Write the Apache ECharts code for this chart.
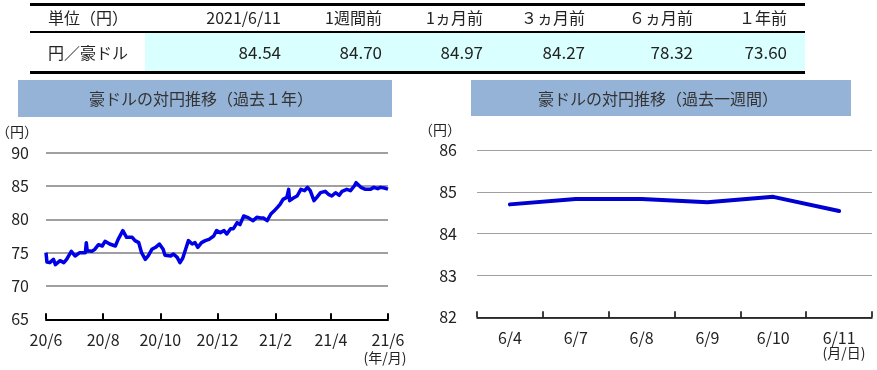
<!DOCTYPE html>
<html>
<head>
<meta charset="utf-8">
<script src="https://cdn.jsdelivr.net/npm/echarts@6/dist/echarts.min.js"></script>
<style>
html,body{margin:0;padding:0;background:#fff;}
#chart{width:877px;height:370px;}
</style>
</head>
<body>
<div id="chart"></div>
<script>
// ---- Table data ----
const tableHeaders = ['単位（円）', '2021/6/11', '1週間前', '1ヵ月前', '３ヵ月前', '６ヵ月前', '１年前'];
const tableRowLabel = '円／豪ドル';
const tableValues = [84.54, 84.70, 84.97, 84.27, 78.32, 73.60];

// ---- Past 1 year ----
const yearTitle = '豪ドルの対円推移（過去１年）';
const yearDates = [
  '2020-06-11','2020-06-12','2020-06-15','2020-06-19','2020-06-21','2020-06-26','2020-06-30',
  '2020-07-03','2020-07-08','2020-07-12','2020-07-17','2020-07-23','2020-07-24','2020-07-25','2020-07-30',
  '2020-08-02','2020-08-06','2020-08-10','2020-08-13','2020-08-18','2020-08-24','2020-08-27',
  '2020-09-01','2020-09-05','2020-09-11','2020-09-14','2020-09-18','2020-09-21','2020-09-25','2020-09-28',
  '2020-10-02','2020-10-06','2020-10-10','2020-10-14','2020-10-16','2020-10-22','2020-10-25','2020-10-29',
  '2020-11-01','2020-11-04','2020-11-07','2020-11-10','2020-11-14','2020-11-17','2020-11-20','2020-11-24','2020-11-28',
  '2020-12-02','2020-12-07','2020-12-10','2020-12-14','2020-12-18','2020-12-21','2020-12-25','2020-12-28',
  '2021-01-01','2021-01-04','2021-01-08','2021-01-12','2021-01-14','2021-01-18','2021-01-22','2021-01-26','2021-01-29',
  '2021-02-02','2021-02-06','2021-02-09','2021-02-13','2021-02-16','2021-02-19','2021-02-23','2021-02-25','2021-02-26',
  '2021-03-02','2021-03-06','2021-03-10','2021-03-14','2021-03-17','2021-03-20','2021-03-24','2021-03-27','2021-03-31',
  '2021-04-05','2021-04-09','2021-04-12','2021-04-16','2021-04-20','2021-04-23','2021-04-28',
  '2021-05-02','2021-05-06','2021-05-08','2021-05-13','2021-05-18','2021-05-20','2021-05-23','2021-05-27','2021-05-31',
  '2021-06-03','2021-06-07','2021-06-11'
];
const yearValues = [
  75.0,73.6,73.5,74.0,73.2,73.8,73.5,
  74.0,75.2,74.5,75.0,75.0,76.5,75.3,75.2,
  75.5,76.2,76.0,76.7,76.3,76.0,77.0,
  78.3,77.3,77.3,76.8,76.5,75.0,74.0,74.5,
  75.5,75.8,76.3,75.5,74.6,74.5,74.8,74.3,
  73.5,74.2,75.5,76.8,76.3,76.5,75.8,76.5,76.8,
  77.0,77.5,78.3,78.0,78.3,77.8,78.6,78.6,
  79.5,79.2,80.5,80.3,80.5,79.8,80.3,80.2,80.2,
  79.8,80.8,81.2,81.8,82.3,83.0,83.3,84.5,82.8,
  83.2,83.5,84.5,84.3,84.8,84.3,82.8,83.3,84.0,
  84.2,83.7,83.5,84.0,83.6,84.2,84.5,
  84.3,85.0,85.5,84.8,84.5,84.2,84.5,84.8,84.6,
  84.8,84.7,84.54
];
const yearTickDates = ['2020-06-11','2020-08-11','2020-10-11','2020-12-11','2021-02-11','2021-04-11','2021-06-11'];
const yearTickLabels = ['20/6','20/8','20/10','20/12','21/2','21/4','21/6'];
const yearYTicks = [65, 70, 75, 80, 85, 90];

// ---- Past 1 week ----
const weekTitle = '豪ドルの対円推移（過去一週間）';
const weekCategories = ['6/4','6/7','6/8','6/9','6/10','6/11'];
const weekValues = [84.70, 84.83, 84.83, 84.75, 84.88, 84.54];
const weekYTicks = [82, 83, 84, 85, 86];

// day offset from the first tick date (UTC, exact day counts)
function dayNum(s) {
  const p = s.split('-').map(Number);
  return Math.round(Date.UTC(p[0], p[1] - 1, p[2]) / 86400000);
}
const day0 = dayNum(yearTickDates[0]);
const dayOf = s => dayNum(s) - day0;
const tickDays = yearTickDates.map(dayOf);

const FONT = '"Noto Sans CJK JP", "Noto Sans", sans-serif';
const TXT = '#222';

// ---- table graphics ----
const colRight = [281, 382, 483, 585, 693, 787];
const g = [];
g.push({type:'rect', shape:{x:145, y:33, width:660, height:39}, style:{fill:'#d9ffff'}, silent:true});
g.push({type:'rect', shape:{x:30, y:3, width:775, height:3}, style:{fill:'#000'}, silent:true});
g.push({type:'rect', shape:{x:30, y:31, width:775, height:2}, style:{fill:'#000'}, silent:true});
g.push({type:'rect', shape:{x:30, y:71, width:775, height:3}, style:{fill:'#000'}, silent:true});
g.push({type:'text', x:48, y:18, style:{text:tableHeaders[0], font:'16px ' + FONT, fill:TXT, verticalAlign:'middle'}});
for (let i = 1; i < tableHeaders.length; i++) {
  g.push({type:'text', x:colRight[i-1], y:18, style:{text:tableHeaders[i], font:'16px ' + FONT, fill:TXT, align:'right', verticalAlign:'middle'}});
}
g.push({type:'text', x:48, y:53, style:{text:tableRowLabel, font:'16px ' + FONT, fill:TXT, verticalAlign:'middle'}});
tableValues.forEach((v, i) => {
  g.push({type:'text', x:colRight[i], y:53, style:{text:v.toFixed(2), font:'17px ' + FONT, fill:TXT, align:'right', verticalAlign:'middle'}});
});
// title boxes
g.push({type:'rect', shape:{x:18, y:80, width:374, height:37}, style:{fill:'#95b3d7'}, silent:true});
g.push({type:'text', x:201, y:99, style:{text:yearTitle, font:'16px ' + FONT, fill:'#333', align:'center', verticalAlign:'middle'}});
g.push({type:'rect', shape:{x:471, y:80, width:380, height:36}, style:{fill:'#95b3d7'}, silent:true});
g.push({type:'text', x:658, y:99, style:{text:weekTitle, font:'16px ' + FONT, fill:'#333', align:'center', verticalAlign:'middle'}});
// unit labels
g.push({type:'text', x:17, y:132, style:{text:'（円）', font:'14px ' + FONT, fill:TXT, align:'center', verticalAlign:'middle'}});
g.push({type:'text', x:440, y:130, style:{text:'（円）', font:'14px ' + FONT, fill:TXT, align:'center', verticalAlign:'middle'}});
g.push({type:'text', x:385, y:358, style:{text:'(年/月)', font:'14px ' + FONT, fill:TXT, align:'center', verticalAlign:'middle'}});
g.push({type:'text', x:844, y:353, style:{text:'(月/日)', font:'14px ' + FONT, fill:TXT, align:'center', verticalAlign:'middle'}});

const chart = echarts.init(document.getElementById('chart'), null, {renderer:'canvas'});
chart.setOption({
  animation: false,
  backgroundColor: '#fff',
  textStyle: {fontFamily: FONT},
  grid: [
    {left:46, top:152.7, width:342, height:166.6, containLabel:false},
    {left:477, top:150, width:395, height:167.3, containLabel:false}
  ],
  xAxis: [
    {
      type:'value', gridIndex:0,
      min: tickDays[0], max: tickDays[tickDays.length-1],
      axisLine:{show:true, onZero:false, lineStyle:{color:'#000', width:2}},
      axisTick:{show:true, inside:true, length:6, lineStyle:{color:'#000', width:2}, customValues: tickDays},
      axisLabel:{
        customValues: tickDays, color:TXT, fontSize:16, margin:13, fontFamily:FONT,
        hideOverlap:false, showMinLabel:true, showMaxLabel:true,
        formatter: function (v) {
          const i = tickDays.indexOf(Math.round(v));
          return i >= 0 ? yearTickLabels[i] : '';
        }
      },
      splitLine:{show:false}, minorTick:{show:false}
    },
    {
      type:'category', gridIndex:1, data: weekCategories, boundaryGap:true,
      axisLine:{show:true, onZero:false, lineStyle:{color:'#000', width:1.5}},
      axisTick:{show:true, inside:true, length:6, lineStyle:{color:'#000', width:1.5}},
      axisLabel:{color:TXT, fontSize:16, margin:13, fontFamily:FONT, interval:0},
      splitLine:{show:false}
    }
  ],
  yAxis: [
    {
      type:'value', gridIndex:0, min:yearYTicks[0], max:yearYTicks[yearYTicks.length-1], interval:5,
      axisLine:{show:false}, axisTick:{show:false},
      axisLabel:{color:TXT, fontSize:16, margin:17, fontFamily:FONT},
      splitLine:{show:true, lineStyle:{color:'#a0a0a0', width:2}}
    },
    {
      type:'value', gridIndex:1, min:weekYTicks[0], max:weekYTicks[weekYTicks.length-1], interval:1,
      axisLine:{show:false}, axisTick:{show:false},
      axisLabel:{color:TXT, fontSize:16, margin:20, fontFamily:FONT},
      splitLine:{show:true, lineStyle:{color:'#a0a0a0', width:1}}
    }
  ],
  series: [
    {
      type:'line', xAxisIndex:0, yAxisIndex:0, showSymbol:false, symbol:'none',
      data: yearDates.map((d, i) => [dayOf(d), yearValues[i]]),
      lineStyle:{color:'#0000e6', width:3.5, join:'round'}, z:5
    },
    {
      type:'line', xAxisIndex:1, yAxisIndex:1, showSymbol:false, symbol:'none',
      data: weekValues,
      lineStyle:{color:'#0000d0', width:4, cap:'round'}, z:5
    }
  ],
  graphic: g
});
</script>
</body>
</html>
